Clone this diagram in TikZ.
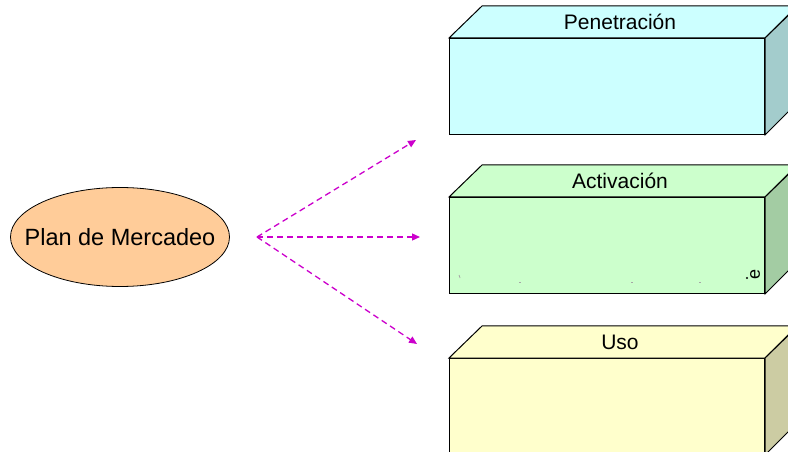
\documentclass[tikz,border=0pt]{standalone}
\usepackage{fontspec}
\setmainfont{Liberation Sans}
\usetikzlibrary{arrows.meta,shapes.geometric,calc}

\definecolor{cyanfront}{HTML}{CCFFFF}
\definecolor{cyanside}{HTML}{A3CCCC}
\definecolor{greenfront}{HTML}{CCFFCC}
\definecolor{greenside}{HTML}{A3CCA3}
\definecolor{yellowfront}{HTML}{FFFFCC}
\definecolor{yellowside}{HTML}{CCCCA3}
\definecolor{peach}{HTML}{FFCC99}
\definecolor{linkcol}{HTML}{CC00CC}

\tikzset{
  frontface/.style={draw=black, line width=1bp, rectangle, inner sep=0pt,
    minimum width=315bp, minimum height=96bp, anchor=north west},
  faceedge/.style={draw=black, line width=1bp, line join=miter},
  boxlabel/.style={font=\fontsize{21bp}{24bp}\selectfont, inner sep=0pt},
  planoval/.style={ellipse, draw=black, line width=0.8bp, fill=peach,
    minimum width=219bp, minimum height=99bp, inner sep=0pt},
  plantext/.style={font=\fontsize{23.5bp}{26bp}\selectfont, inner sep=0pt},
  link/.style={draw=linkcol, line width=1.3bp, dash pattern=on 6bp off 4bp,
    -{Triangle[length=8bp,width=7bp]}},
  speck/.style={draw=black!35, line width=0.8bp},
}

% cuboid: #1 name, #2 top-left of front face, #3 front colour, #4 side colour, #5 label
\newcommand\drawcuboid[5]{%
  \node[frontface, fill=#3] (#1) at #2 {};
  \path[faceedge, fill=#3] (#1.north west) -- ++(33,-32) -- ++(315,0)
    -- (#1.north east) -- cycle;
  \path[faceedge, fill=#4] (#1.north east) -- ++(33,-32) -- ++(0,96)
    -- (#1.south east) -- cycle;
  \node[boxlabel] (#1-label) at ($(#1.north)+(13,-16)$) {#5};
}

\begin{document}
\begin{tikzpicture}[x=1bp,y=-1bp]
  \useasboundingbox (0,0) rectangle (788,452);
  \clip (0,0) rectangle (788,452);
  \fill[white] (0,0) rectangle (788,452);

  \drawcuboid{pen}{(449,38)}{cyanfront}{cyanside}{Penetración}
  \drawcuboid{act}{(449,197)}{greenfront}{greenside}{Activación}
  \drawcuboid{uso}{(449,358)}{yellowfront}{yellowside}{Uso}

  % clipped fragments at the foot of the Activación face
  \node[font=\fontsize{18bp}{18bp}\selectfont, inner sep=0pt, rotate=90] (act-frag) at (755,274) {e};
  \fill[black] (747,278) circle (1.1bp);
  \draw[speck] (459,275) -- (460,278);
  \draw[speck] (519,282) -- (521,282);
  \draw[speck] (631,282) -- (633,282);
  \draw[speck] (699,282) -- (701,282);

  \node[planoval] (plan) at (120,237) {};
  \node[plantext] (plan-text) at (plan.center) {Plan de Mercadeo};

  \coordinate (fork) at (257,237);
  \coordinate (to-pen) at (416,140);
  \coordinate (to-act) at (420,237);
  \coordinate (to-uso) at (417,344);

  \draw[link] (fork) -- (to-pen);
  \draw[link] (fork) -- (to-act);
  \draw[link] (fork) -- (to-uso);
\end{tikzpicture}
\end{document}
